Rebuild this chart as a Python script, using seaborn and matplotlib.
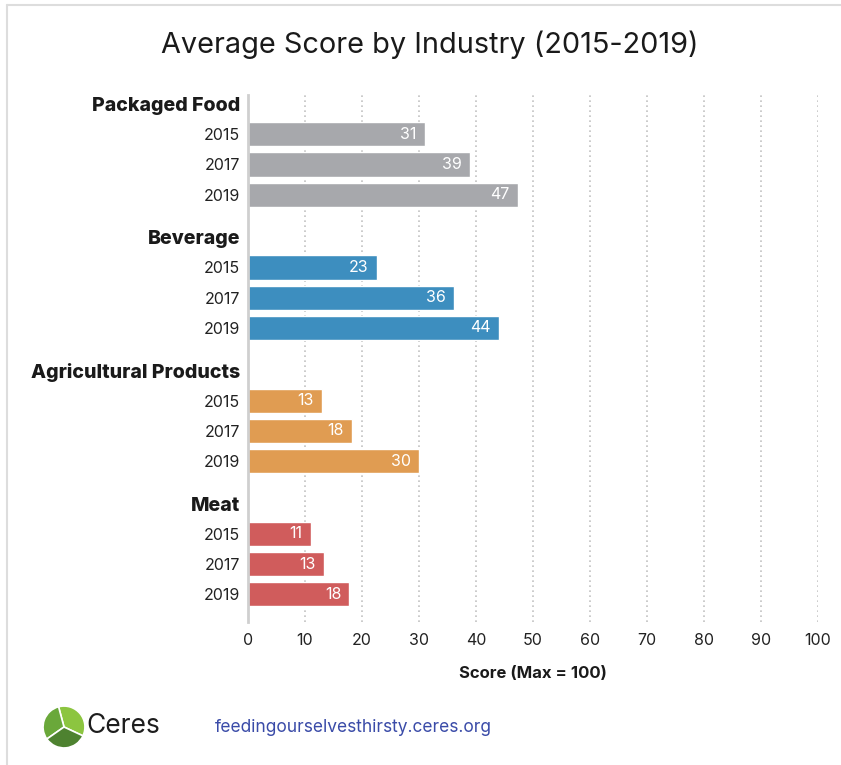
import numpy as np
import pandas as pd
import matplotlib.pyplot as plt
import seaborn as sns
from matplotlib.patches import Wedge
from matplotlib.lines import Line2D

# values
industries = ["Packaged Food", "Beverage", "Agricultural Products", "Meat"]
years = ["2015", "2017", "2019"]
packaged_food = [31, 39, 47.3]
beverage = [22.6, 36.2, 44]
agricultural = [13, 18.2, 30]
meat = [11, 13.4, 17.8]
industry_colors = ["#a7a8ac", "#3d8ebf", "#e09c52", "#d05c5c"]

sns.set_style("white")
plt.rcParams['font.family'] = ['Inter', 'DejaVu Sans']

# layout: header row then the three years, groups a bit apart
group_step = 4.41
rows = []
tick_pos, tick_lab, is_header = [], [], []
for g, (name, vals) in enumerate(zip(industries, [packaged_food, beverage, agricultural, meat])):
    base = g * group_step
    tick_pos.append(base)
    tick_lab.append(name)
    is_header.append(True)
    for i, (yr, v) in enumerate(zip(years, vals)):
        rows.append({"industry": name, "year": yr, "score": v, "pos": base + i + 1})
        tick_pos.append(base + i + 1)
        tick_lab.append(yr)
        is_header.append(False)
df = pd.DataFrame(rows)

W, H = 841, 765
fig = plt.figure(figsize=(W / 100, H / 100), dpi=100)
ax = fig.add_axes([248 / W, 1 - 622 / H, 570 / W, 527 / H])

sns.barplot(data=df, x="score", y="pos", hue="industry", orient="y",
            palette=dict(zip(industries, industry_colors)), native_scale=True,
            dodge=False, width=0.8, saturation=1, legend=False, ax=ax)

for _, r in df.iterrows():
    ax.annotate(str(int(round(r["score"]))), (r["score"], r["pos"]),
                xytext=(-6, 0), textcoords="offset points", ha="right", va="center",
                color="white", fontsize=11.5)

ax.set_xlim(0, 100)
ax.set_ylim(17.15, -0.3)
ax.set_xticks(range(0, 101, 10))
ax.set_yticks(tick_pos)
ax.set_yticklabels(tick_lab)
ax.set_xlabel("")
ax.set_ylabel("")
ax.xaxis.grid(True, linestyle=(0, (1, 2)), color="#c2c2c2", lw=1.2)
ax.set_axisbelow(True)
ax.tick_params(axis="both", length=0, labelsize=11.5, colors="#222222")
ax.tick_params(axis="x", pad=8)
ax.tick_params(axis="y", pad=5.5)
# style the industry headers after tick_params so it does not reset them
for lab, hd in zip(ax.get_yticklabels(), is_header):
    if hd:
        lab.set_fontweight("heavy")
        lab.set_fontsize(14.1)
        lab.set_color("#1a1a1a")
for s in ["top", "right", "bottom"]:
    ax.spines[s].set_visible(False)
ax.spines["left"].set_color("#cfcfcf")
ax.spines["left"].set_linewidth(2)

fig.text(430 / W, 1 - 45 / H, "Average Score by Industry (2015-2019)",
         ha="center", va="center", fontsize=20.8, color="#1a1a1a")
fig.text(533 / W, 1 - 673 / H, "Score (Max = 100)", ha="center", va="center",
         fontsize=12, fontweight="bold", color="#1a1a1a")

# footer: logo, name, url
lax = fig.add_axes([42 / W, 1 - 749 / H, 44 / W, 44 / H])
lax.set_xlim(-1.05, 1.05)
lax.set_ylim(-1.05, 1.05)
lax.set_aspect("equal")
lax.axis("off")
for t1, t2, c in [(-25, 105, "#8cc540"), (105, 215, "#6aa83a"), (215, 335, "#4e8230")]:
    lax.add_patch(Wedge((0, 0), 1.0, t1, t2, facecolor=c, edgecolor="white", lw=1.2))
fig.text(86 / W, 1 - 726 / H, "Ceres", ha="left", va="center", fontsize=19, color="#1d1d1d")
fig.text(215 / W, 1 - 727 / H, "feedingourselvesthirsty.ceres.org", ha="left", va="center",
         fontsize=12.5, color="#3a4ba8")

# light frame lines at top and left
fig.add_artist(Line2D([7 / W, 1], [1 - 4.5 / H, 1 - 4.5 / H], color="#dddddd", lw=1.5))
fig.add_artist(Line2D([7 / W, 7 / W], [0, 1 - 4.5 / H], color="#dddddd", lw=1.5))

fig.savefig("out.png", dpi=100)
